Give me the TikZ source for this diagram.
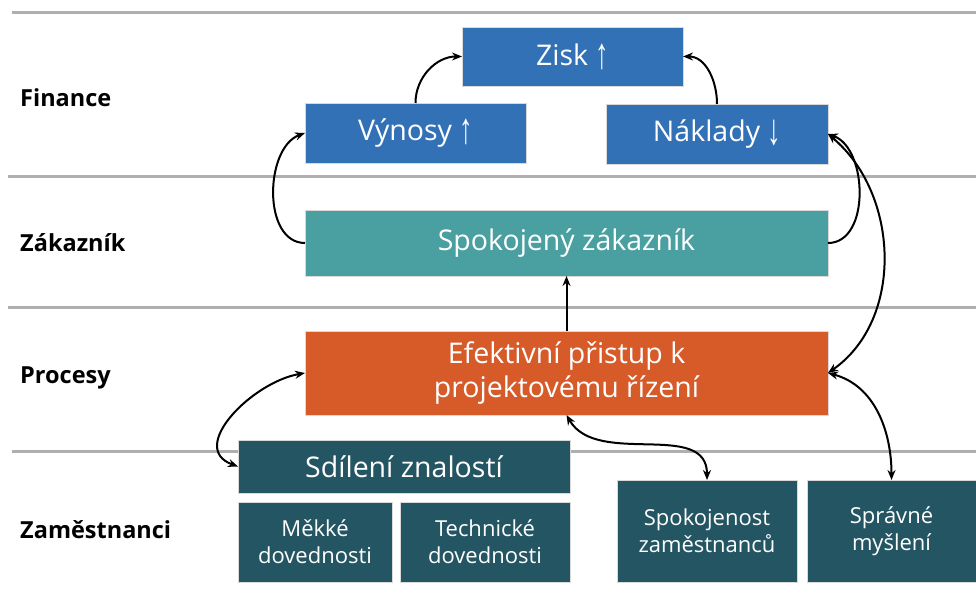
\documentclass[tikz,border=0pt]{standalone}
\usepackage{fontspec}
\usepackage{graphicx}
\setmainfont{Open Sans}
\newfontfamily\symfont{Liberation Sans}
\usetikzlibrary{arrows.meta}
\definecolor{finblue}{HTML}{3371B7}
\definecolor{custteal}{HTML}{4AA0A1}
\definecolor{procorange}{HTML}{D65B29}
\definecolor{empdark}{HTML}{245563}
\definecolor{rulegray}{HTML}{AFAFAF}
% tall, slim trend arrow set next to the finance figures
\newcommand{\arr}[1]{\raisebox{-3pt}{\scalebox{0.9}[1.45]{\symfont\fontsize{30}{34}\selectfont #1}}}
\tikzset{
  box/.style={inner sep=0pt, outer sep=0pt, text=white, align=center, draw=white!85!black, line width=0.4pt},
  bigbox/.style={box, font=\fontsize{28.5}{34}\selectfont},
  smallbox/.style={box, font=\fontsize{22}{27}\selectfont},
  lane/.style={rulegray, line width=3pt},
  lanelabel/.style={anchor=west, inner sep=0pt, font=\fontsize{23.5}{27}\selectfont\bfseries},
  link/.style={line width=2pt, -{Stealth[length=10pt,width=8pt]}},
  dlink/.style={line width=2pt, {Stealth[length=10pt,width=8pt]}-{Stealth[length=10pt,width=8pt]}}
}
\begin{document}
\begin{tikzpicture}[x=1pt,y=1pt]
\useasboundingbox (0,0) rectangle (976,603);

% swimlane separators
\coordinate (l1a) at (12,590); \coordinate (l1b) at (976,590);
\coordinate (l2a) at (8,426);  \coordinate (l2b) at (976,426);
\coordinate (l3a) at (8,296);  \coordinate (l3b) at (976,296);
\coordinate (l4a) at (12,152); \coordinate (l4b) at (976,152);
\draw[lane] (l1a) -- (l1b);
\draw[lane] (l2a) -- (l2b);
\draw[lane] (l3a) -- (l3b);
\draw[lane] (l4a) -- (l4b);

% lane titles
\node[lanelabel] (tfin)  at (20,505) {Finance};
\node[lanelabel] (tzak)  at (20,360) {Zákazník};
\node[lanelabel] (tproc) at (20,225) {Procesy};
\node[lanelabel] (tzam)  at (20,73)  {Zaměstnanci};

% finance
\node[bigbox, fill=finblue, minimum width=221pt, minimum height=59pt] (zisk) at (572.5,546.5) {Zisk \arr{↑}};
\node[bigbox, fill=finblue, minimum width=221pt, minimum height=60pt] (vynosy) at (415.5,470) {Výnosy \arr{↑}};
\node[bigbox, fill=finblue, minimum width=222pt, minimum height=60pt] (naklady) at (717,469) {Náklady \arr{↓}};

% customer
\node[bigbox, fill=custteal, minimum width=523pt, minimum height=66pt] (zakaznik) at (566.5,360) {Spokojený zákazník};

% processes
\node[bigbox, fill=procorange, minimum width=523pt, minimum height=84pt] (efekt) at (566.5,230) {Efektivní přistup k\\projektovému řízení};

% employees
\node[bigbox, fill=empdark, minimum width=332pt, minimum height=53pt] (sdileni) at (404,136.5) {Sdílení znalostí};
\node[smallbox, fill=empdark, minimum width=154pt, minimum height=80pt] (mekke) at (315,61) {Měkké\\dovednosti};
\node[smallbox, fill=empdark, minimum width=170pt, minimum height=80pt] (tech) at (485,61) {Technické\\dovednosti};
\node[smallbox, fill=empdark, minimum width=180pt, minimum height=102pt] (spokoj) at (707,72) {Spokojenost\\zaměstnanců};
\node[smallbox, fill=empdark, minimum width=169pt, minimum height=102pt] (spravne) at (891.5,72) {Správné\\myšlení};

% links
\draw[link] (vynosy.north) to[out=90,in=180] (zisk.west);
\draw[link] (naklady.north) to[out=90,in=0] (zisk.east);
\draw[link] (zakaznik.west) to[out=180,in=200] (vynosy.west);
\draw[link] (zakaznik.east) to[out=0,in=-20] (naklady.east);
\draw[link] (efekt.north) -- (zakaznik.south);
\draw[dlink] (naklady.east) to[out=-40,in=35] (efekt.east);
\draw[dlink] (efekt.east) to[out=-15,in=90] (spravne.north);
\draw[dlink] (efekt.south) to[out=-60,in=90] (spokoj.north);
\draw[dlink] (efekt.west) to[out=190,in=160,looseness=1.2] (sdileni.west);
\end{tikzpicture}
\end{document}
